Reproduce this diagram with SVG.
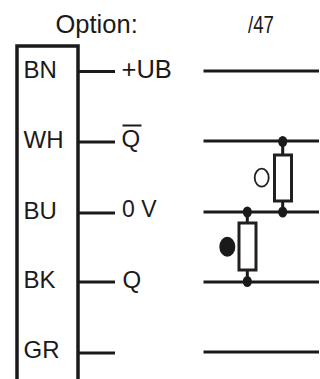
<svg xmlns="http://www.w3.org/2000/svg" width="320" height="379" viewBox="0 0 320 379">
<style>
text{font-family:"Liberation Sans",Arial,sans-serif;font-size:24px;fill:#1a1a1a}
.w{stroke:#1a1a1a;stroke-width:3;fill:none}
.c{fill:#1a1a1a;stroke:none}
.r{fill:#fff;stroke:#231f20;stroke-width:3}
</style>
<rect width="320" height="379" fill="#fff"/>
<g id="header">
<text x="55.500" y="33" style="font-size:25.500px">Option:</text>
<text x="248" y="33" textLength="26" lengthAdjust="spacingAndGlyphs">/47</text>
</g>
<g id="connector-block">
<path class="w" style="stroke-width:3.500" d="M17 379V46H78V379"/>
<text x="23.500" y="78">BN</text>
<text x="23.500" y="148">WH</text>
<text x="23.500" y="218.500">BU</text>
<text x="23.500" y="287.500">BK</text>
<text x="23.500" y="357.700">GR</text>
</g>
<g id="connectors">
<path class="w" d="M78 71.500H115M78 142H115M78 213H115M78 282H115M78 353H115"/>
<path class="w" d="M203.500 71H319M203.500 141H319M203.500 212H319M203.500 282H319M203.500 352H319"/>
<path class="w" d="M282.700 141V155M282.700 201V212M247.300 212V223M247.300 270V281"/>
</g>
<g id="labels">
<text x="121.500" y="77.500" style="font-size:25.500px">+UB</text>
<text x="121.500" y="146.500">Q</text>
<path class="w" style="stroke-width:2" d="M122.500 125.500H141.500"/>
<text x="122" y="217" style="font-size:23px">0 V</text>
<text x="122.500" y="287.500">Q</text>
</g>
<g id="load-top">
<rect class="r" x="274.500" y="155" width="17" height="46"/>
<ellipse class="c" cx="282.700" cy="141.500" rx="4.500" ry="5.500"/>
<ellipse class="c" cx="282.700" cy="212" rx="4.500" ry="5.500"/>
<ellipse cx="261.700" cy="177.700" rx="7" ry="9" fill="#fff" stroke="#231f20" stroke-width="1.800"/>
</g>
<g id="load-bottom">
<rect class="r" x="239" y="223" width="17" height="47"/>
<ellipse class="c" cx="247.300" cy="212" rx="4.500" ry="5.500"/>
<ellipse class="c" cx="247.300" cy="281.500" rx="4.500" ry="5.500"/>
<ellipse class="c" cx="227.300" cy="246.700" rx="8" ry="10"/>
</g>
</svg>
